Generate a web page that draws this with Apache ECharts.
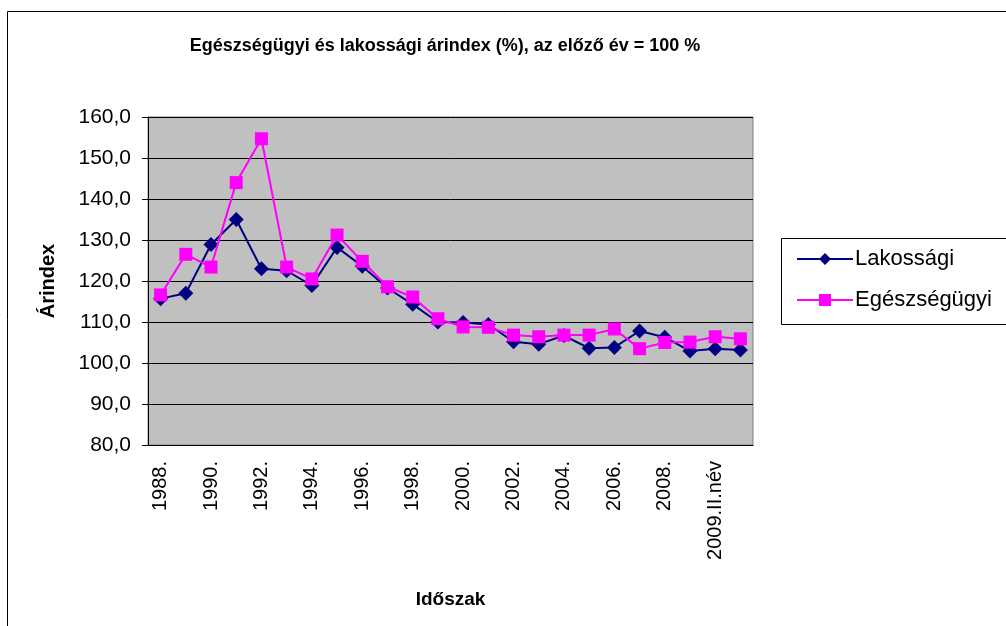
<!DOCTYPE html>
<html>
<head>
<meta charset="utf-8">
<script src="https://cdn.jsdelivr.net/npm/echarts@6/dist/echarts.min.js"></script>
<style>
  html, body { margin: 0; padding: 0; background: #fff; }
  #chart { width: 1006px; height: 626px; }
</style>
</head>
<body>
<div id="chart"></div>
<script>
var categories = ['1988.', '1989.', '1990.', '1991.', '1992.', '1993.', '1994.', '1995.',
  '1996.', '1997.', '1998.', '1999.', '2000.', '2001.', '2002.', '2003.', '2004.', '2005.',
  '2006.', '2007.', '2008.', '2009.I.név', '2009.II.név', '2009.III.név']
var lakossagi = [115.7, 117.0, 128.9, 135.0, 123.0, 122.5, 118.9, 128.2, 123.6, 118.3, 114.3, 110.0,
  109.9, 109.4, 105.2, 104.6, 106.7, 103.6, 103.8, 107.8, 106.3, 102.9, 103.5, 103.2]
var egeszsegugyi = [116.6, 126.5, 123.4, 144.0, 154.7, 123.4, 120.5, 131.2, 124.8, 118.6, 116.1, 110.8,
  108.8, 108.7, 106.8, 106.4, 106.8, 106.8, 108.3, 103.5, 105.0, 105.1, 106.4, 105.9]

var font = 'Liberation Sans, Arial, sans-serif'
var chart = echarts.init(document.getElementById('chart'))

chart.setOption({
  animation: false,
  backgroundColor: '#fff',
  textStyle: { fontFamily: font, color: '#000' },
  title: {
    text: 'Egészségügyi és lakossági árindex (%), az előző év = 100 %',
    left: 440,
    textAlign: 'center',
    top: 32,
    textStyle: { fontFamily: font, fontSize: 18, fontWeight: 'bold', color: '#000' }
  },
  graphic: [{
    // outer chart frame, runs past the right and bottom edges
    type: 'rect',
    shape: { x: 7.5, y: 11.5, width: 1100, height: 700 },
    style: { fill: 'none', stroke: '#000', lineWidth: 1 },
    silent: true,
    z: -1
  }, {
    // legend frame, also cut off at the right edge
    type: 'rect',
    shape: { x: 781.5, y: 238.5, width: 300, height: 86 },
    style: { fill: 'none', stroke: '#000', lineWidth: 1 },
    silent: true,
    z: 5
  }],
  legend: {
    left: 781,
    top: 238,
    orient: 'vertical',
    padding: [10, 5, 13, 15],
    itemGap: 19,
    itemWidth: 56,
    itemHeight: 15,
    textStyle: { fontFamily: font, fontSize: 22, color: '#000', padding: [0, 0, 0, -3] },
    data: ['Lakossági', 'Egészségügyi']
  },
  grid: {
    left: 148,
    top: 117,
    right: 253,
    bottom: 181,
    show: true,
    backgroundColor: '#c0c0c0',
    borderColor: '#808080',
    borderWidth: 1
  },
  xAxis: {
    type: 'category',
    data: categories,
    boundaryGap: true,
    name: 'Időszak',
    nameLocation: 'middle',
    nameGap: 145,
    nameTextStyle: { fontFamily: font, fontSize: 19, fontWeight: 'bold', color: '#000' },
    axisLine: { lineStyle: { color: '#000', width: 1 } },
    axisTick: { interval: 0, length: 6, lineStyle: { color: '#000' } },
    axisLabel: {
      interval: 1,
      rotate: 90,
      margin: 16,
      fontFamily: font,
      fontSize: 20,
      color: '#000'
    },
    splitLine: { show: false }
  },
  yAxis: {
    type: 'value',
    min: 80,
    max: 160,
    interval: 10,
    name: 'Árindex',
    nameLocation: 'middle',
    nameGap: 90,
    nameRotate: 90,
    nameTextStyle: { fontFamily: font, fontSize: 20, fontWeight: 'bold', color: '#000' },
    axisLine: { show: true, lineStyle: { color: '#000', width: 1 } },
    axisTick: { show: true, length: 6, lineStyle: { color: '#000' } },
    axisLabel: {
      margin: 17,
      fontFamily: font,
      fontSize: 21,
      color: '#000',
      formatter: function (v) { return v.toFixed(1).replace('.', ',') }
    },
    splitLine: { show: true, lineStyle: { color: '#000', width: 1 } }
  },
  series: [
    {
      name: 'Lakossági',
      type: 'line',
      data: lakossagi,
      symbol: 'diamond',
      symbolSize: 15,
      showAllSymbol: true,
      itemStyle: { color: '#000080' },
      lineStyle: { color: '#000080', width: 2 },
      z: 2
    },
    {
      name: 'Egészségügyi',
      type: 'line',
      data: egeszsegugyi,
      symbol: 'rect',
      symbolSize: 13,
      showAllSymbol: true,
      itemStyle: { color: '#ff00ff' },
      lineStyle: { color: '#ff00ff', width: 2 },
      z: 3
    }
  ]
})
</script>
</body>
</html>
